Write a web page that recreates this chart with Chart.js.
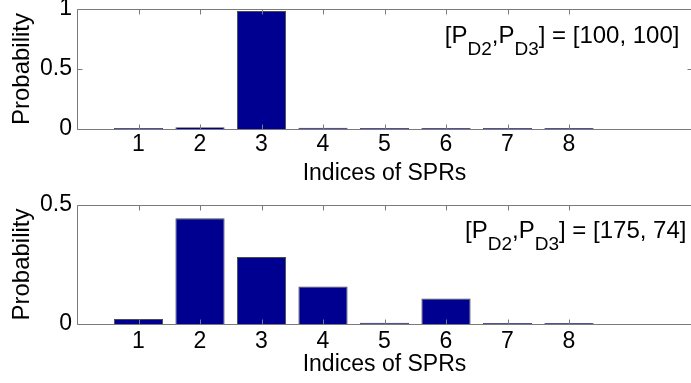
<!DOCTYPE html>
<html>
<head>
<meta charset="utf-8">
<script src="https://cdn.jsdelivr.net/npm/chart.js@4.4.1/dist/chart.umd.min.js"></script>
<style>
  html, body { margin: 0; padding: 0; background: #fff; width: 691px; height: 383px; overflow: hidden; }
  canvas { position: absolute; left: 0; display: block; }
  #c1 { top: 0; }
  #c2 { top: 190px; }
</style>
</head>
<body>
<canvas id="c1" width="700" height="190"></canvas>
<canvas id="c2" width="700" height="193"></canvas>
<script>
// SPR indices on the x axis
const sprIndices = [1, 2, 3, 4, 5, 6, 7, 8];

// probability of each SPR for the two detection-power settings
const probA = [0.004, 0.015, 0.983, 0.010, 0.002, 0.002, 0.002, 0.002];
const probB = [0.021, 0.444, 0.281, 0.158, 0.005, 0.107, 0.002, 0.002];

// [P_D2, P_D3] settings
const powerA = [100, 100];
const powerB = [175, 74];

// y tick values
const yTicksA = [0, 0.5, 1];
const yTicksB = [0, 0.5];

const FONT = '"Liberation Sans", Arial, Helvetica, sans-serif';
const AXIS_COLOR = '#7a7a7a';
const BAR_FILL = '#000090';
const BAR_EDGE = '#4a4a4a';

// box around the axes with inward-pointing ticks
const frameTicks = {
  id: 'frameTicks',
  afterDatasetsDraw(chart) {
    const { ctx, chartArea: a, scales: { x, y } } = chart;
    const L = 5;
    const l = Math.round(a.left) + 0.5, r = Math.round(a.right) + 0.5;
    const t = Math.round(a.top) + 0.5, b = Math.round(y.getPixelForValue(0)) + 0.5;
    ctx.save();
    ctx.strokeStyle = AXIS_COLOR;
    ctx.lineWidth = 1;
    ctx.beginPath();
    ctx.rect(l, t, r - l, b - t);
    x.ticks.forEach(tk => {
      const px = Math.round(x.getPixelForValue(tk.value)) + 0.5;
      ctx.moveTo(px, b); ctx.lineTo(px, b - L);
      ctx.moveTo(px, t); ctx.lineTo(px, t + L);
    });
    y.ticks.forEach(tk => {
      const py = Math.round(y.getPixelForValue(tk.value)) + 0.5;
      ctx.moveTo(l, py); ctx.lineTo(l + L, py);
      ctx.moveTo(r, py); ctx.lineTo(r - L, py);
    });
    ctx.stroke();
    ctx.restore();
  }
};

// "[P_D2,P_D3] = [a, b]" text label with subscripts
const powerLabel = {
  id: 'powerLabel',
  afterDraw(chart, args, opts) {
    const { ctx, scales: { x, y } } = chart;
    const parts = [
      ['[P', false], ['D2', true], [',P', false], ['D3', true],
      ['] = [' + opts.values[0] + ', ' + opts.values[1] + ']', false]
    ];
    let px = x.getPixelForValue(opts.atX);
    const base = y.getPixelForValue(opts.atY);
    ctx.save();
    ctx.fillStyle = '#000';
    ctx.textBaseline = 'alphabetic';
    ctx.textAlign = 'left';
    parts.forEach(([txt, sub]) => {
      ctx.font = (sub ? 19 : 24) + 'px ' + FONT;
      ctx.fillText(txt, px, sub ? base + 12 : base);
      px += ctx.measureText(txt).width;
    });
    ctx.restore();
  }
};

function makeChart(id, values, yTicks, yMax, power, opt) {
  const tickFont = { family: FONT, size: 23 };
  return new Chart(document.getElementById(id), {
    type: 'bar',
    data: {
      datasets: [{
        data: sprIndices.map((s, i) => ({ x: s, y: values[i] })),
        backgroundColor: BAR_FILL,
        borderColor: BAR_EDGE,
        borderWidth: 1,
        minBarLength: 1,
        barPercentage: 0.8,
        categoryPercentage: 1.0
      }]
    },
    options: {
      responsive: false,
      animation: false,
      events: [],
      layout: { padding: { top: opt.padTop, right: 8, left: 0, bottom: 0 } },
      plugins: {
        legend: { display: false },
        tooltip: { enabled: false },
        powerLabel: { values: power, atX: opt.labelX, atY: opt.labelY }
      },
      scales: {
        x: {
          type: 'linear',
          min: 0,
          max: 10,
          offset: false,
          grid: { display: false, drawTicks: false },
          border: { display: false },
          afterBuildTicks: s => { s.ticks = sprIndices.map(v => ({ value: v })); },
          afterFit: s => { s.height = opt.xHeight; s.paddingLeft = 0; s.paddingRight = 0; },
          ticks: {
            font: tickFont, color: '#000', padding: opt.xTickPad,
            autoSkip: false, maxRotation: 0,
            callback: v => String(v)
          },
          title: {
            display: true, text: 'Indices of SPRs', color: '#000',
            font: { family: FONT, size: 23 },
            padding: { top: 0, bottom: opt.xTitlePad }
          }
        },
        y: {
          type: 'linear',
          min: 0,
          max: yMax,
          grid: { display: false, drawTicks: false },
          border: { display: false },
          afterBuildTicks: s => { s.ticks = yTicks.map(v => ({ value: v })); },
          afterFit: s => { s.width = 77; s.paddingTop = 0; s.paddingBottom = 0; },
          ticks: {
            font: tickFont, color: '#000', padding: 5,
            callback: v => String(v)
          },
          title: {
            display: true, text: 'Probability', color: '#000',
            font: { family: FONT, size: 24 },
            padding: { top: 8, bottom: 0 }
          }
        }
      }
    },
    plugins: [frameTicks, powerLabel]
  });
}

makeChart('c1', probA, yTicksA, 1, powerA,
  { padTop: 9, xHeight: 61, xTickPad: 2, xTitlePad: 3, labelX: 5.98, labelY: 0.717 });
makeChart('c2', probB, yTicksB, 0.5, powerB,
  { padTop: 15, xHeight: 59, xTickPad: 4, xTitlePad: 5, labelX: 6.31, labelY: 0.362 });
</script>
</body>
</html>
